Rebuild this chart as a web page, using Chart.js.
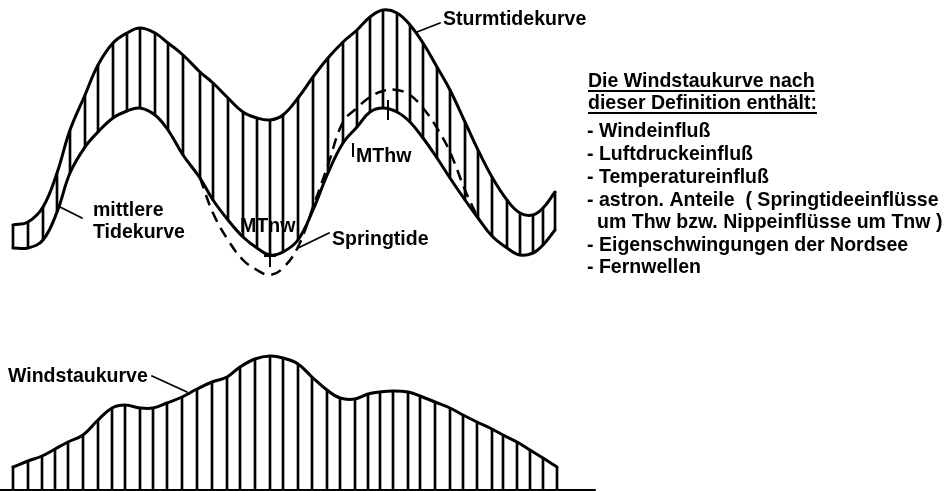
<!DOCTYPE html>
<html>
<head>
<meta charset="utf-8">
<script src="https://cdn.jsdelivr.net/npm/chart.js@4.4.1/dist/chart.umd.min.js"></script>
<style>
html,body{margin:0;padding:0;background:#fff;}
#wrap{width:947px;height:491px;}
</style>
</head>
<body>
<div id="wrap"><canvas id="c" width="947" height="491"></canvas></div>
<script>
// ---- data (in drawing units) ----
const tideX      = [13,28,43,57,70,85,98,113,127,140,155,168,183,200,213,228,243,257,270,283,298,313,328,343,357,370,383,397,410,423,437,450,465,478,492,507,520,533,543,555];
const sturmtide  = [225,222,207,173,130,95,65,43,33,28,33,43,55,72,83,98,112,118,120,115,98,77,58,42,30,17,10,13,25,43,67,90,122,150,177,200,213,215,208,192];
const mittlere   = [248,248,240,212,173,147,132,118,111,108,115,130,155,178,200,220,237,248,255,252,240,210,173,143,127,112,108,112,122,138,158,178,200,218,236,248,255,253,245,230];
const springX    = [200,213,228,243,257,270,283,298,313,328,343,357,370,383,397,410,423,437,450,465,478];
const springtide = [178,213,240,260,270,275,268,247,207,165,122,108,97,91,90,95,108,128,152,190,218];
const windX      = [13,28,42,55,68,83,98,112,125,140,153,167,182,197,212,227,240,255,270,283,298,312,327,340,355,368,380,393,408,420,435,450,463,477,492,503,517,530,543,557];
const windstau   = [467,461,456,449,442,435,420,408,405,408,408,403,397,389,382,377,367,359,356,358,364,377,390,398,399,394,392,391,392,396,402,408,415,422,429,435,442,450,458,467];
const windBase   = 490;
const baseLineX  = [0,595];

// ---- texts ----
const labelTexts = [
  "Sturmtidekurve", "mittlere", "Tidekurve", "MTnw", "MThw", "Springtide", "Windstaukurve",
  "Die Windstaukurve nach", "dieser Definition enthält:",
  "- Windeinfluß", "- Luftdruckeinfluß", "- Temperatureinfluß",
  "- astron. Anteile  ( Springtideeinflüsse", "um Thw bzw. Nippeinflüsse um Tnw )",
  "- Eigenschwingungen der Nordsee", "- Fernwellen"
];
// layout (positions of the texts, leaders and markers)
const labelLayout = [
  {x:443,y:25},{x:93,y:216},{x:93,y:238},{x:240,y:232},{x:356,y:162},{x:332,y:245},{x:8,y:382},
  {x:588,y:87,u:true},{x:588,y:109,u:true},
  {x:587,y:137},{x:587,y:160},{x:587,y:183},{x:587,y:206},{x:597,y:228},{x:587,y:251},{x:587,y:273}
];
const leaders = [
  [[417,32],[440,23]],
  [[60,207],[82,218]],
  [[298,248],[329,233]],
  [[152,376],[187,392]]
];
const markers = [
  {x:270,y:256,r:11,rot:90},{x:270,y:256,r:6,rot:0},
  {x:388,y:110,r:10,rot:90},
  {x:353,y:150,r:7,rot:90}
];

const pts = (xs, ys) => xs.map((x,i)=>({x, y: ys[i]}));
const rng = (xs, lo, hi) => xs.map((x,i)=>({x, y: [lo[i], hi[i]]}));

const lineBase = {type:'line', pointRadius:0, borderColor:'#000', fill:false, clip:false, tension:0.4, borderJoinStyle:'round', borderCapStyle:'round'};
const datasets = [
  Object.assign({}, lineBase, {data: pts(tideX, sturmtide), borderWidth:3}),
  Object.assign({}, lineBase, {data: pts(tideX, mittlere), borderWidth:3}),
  Object.assign({}, lineBase, {data: pts(springX, springtide), borderWidth:2.5, borderDash:[11,7], borderCapStyle:'butt'}),
  Object.assign({}, lineBase, {data: pts(windX, windstau), borderWidth:3}),
  Object.assign({}, lineBase, {data: baseLineX.map(x=>({x, y: windBase})), borderWidth:2, tension:0}),
  {type:'bar', data: rng(tideX, mittlere, sturmtide), backgroundColor:'#000', borderWidth:0, barThickness:2, grouped:false, clip:false},
  {type:'bar', data: rng(windX, windX.map(()=>windBase), windstau), backgroundColor:'#000', borderWidth:0, barThickness:2, grouped:false, clip:false}
];
leaders.forEach(l => datasets.push(Object.assign({}, lineBase, {data: l.map(p=>({x:p[0], y:p[1]})), borderWidth:1.8, tension:0})));
datasets.push({type:'scatter', data: markers.map(m=>({x:m.x, y:m.y})), pointStyle:'line',
  pointRadius: markers.map(m=>m.r), pointRotation: markers.map(m=>m.rot),
  pointBorderWidth: 2, borderColor:'#000', backgroundColor:'#000', showLine:false, clip:false});

const textPlugin = {
  id:'texts',
  afterDatasetsDraw(chart){
    const ctx = chart.ctx, sx = chart.scales.x, sy = chart.scales.y;
    ctx.save();
    ctx.fillStyle = '#000';
    ctx.strokeStyle = '#000';
    ctx.font = 'bold 21px "Liberation Sans", Arial, sans-serif';
    ctx.textBaseline = 'alphabetic';
    labelTexts.forEach((t,i)=>{
      const p = labelLayout[i];
      const x = sx.getPixelForValue(p.x), y = sy.getPixelForValue(p.y);
      const w = ctx.measureText(t).width * 0.93;
      ctx.fillText(t, x, y, w);
      if (p.u){
        ctx.lineWidth = 2;
        ctx.beginPath(); ctx.moveTo(x, y+4); ctx.lineTo(x+w, y+4); ctx.stroke();
      }
    });
    ctx.restore();
  }
};

new Chart(document.getElementById('c'), {
  type:'line',
  data:{datasets},
  options:{
    responsive:false, animation:false, devicePixelRatio:1,
    layout:{padding:0, autoPadding:false},
    plugins:{legend:{display:false}, tooltip:{enabled:false}},
    scales:{
      x:{type:'linear', min:0, max:947, display:false, offset:false, grid:{offset:false}},
      y:{type:'linear', min:0, max:491, reverse:true, display:false}
    }
  },
  plugins:[textPlugin]
});
</script>
</body>
</html>
